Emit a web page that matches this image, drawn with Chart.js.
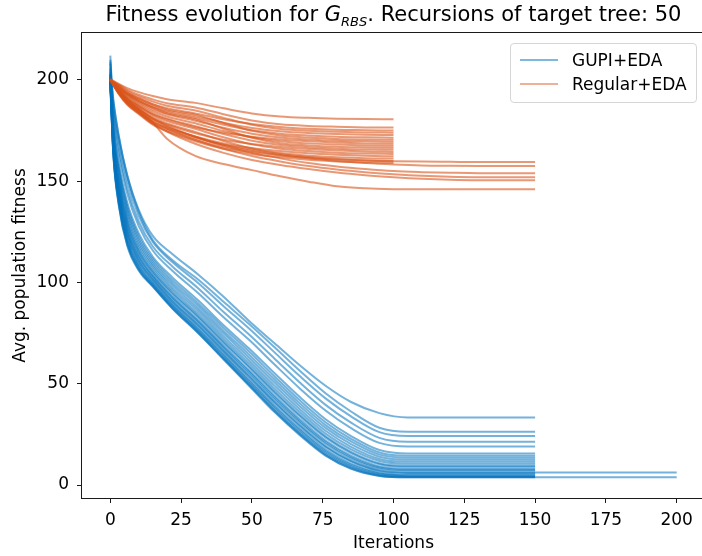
<!DOCTYPE html>
<html>
<head>
<meta charset="utf-8">
<script src="https://cdn.jsdelivr.net/npm/chart.js@4.4.1/dist/chart.umd.min.js"></script>
<style>
  html, body { margin: 0; padding: 0; background: #fff; overflow: hidden; }
  #wrap { position: relative; width: 702px; height: 556px; overflow: hidden; font-family: "DejaVu Sans", sans-serif; }
  #c { position: absolute; left: 0; top: 0; }
  #title { position: absolute; left: 82px; width: 623px; top: 2px; text-align: center; font-size: 21px; color: #000; white-space: nowrap; }
  #title i { font-style: italic; }
  #title sub { font-size: 13px; vertical-align: -5px; line-height: 0; }
  #legend { position: absolute; left: 510px; top: 43px; width: 187px; height: 60px; box-sizing: border-box;
            border: 1px solid #d6d6d6; border-radius: 4px; background: rgba(255,255,255,0.8); font-size: 17px; color: #000; }
  .entry { position: absolute; left: 0; height: 22px; line-height: 22px; white-space: nowrap; }
  .swatch { position: absolute; left: 9px; top: 10px; width: 38px; height: 2px; }
  .label { position: absolute; left: 61px; top: 0; }
</style>
</head>
<body>
<div id="wrap">
  <canvas id="c" width="708" height="556"></canvas>
  <div id="title">Fitness evolution for <i>G<sub>RBS</sub></i>. Recursions of target tree: 50</div>
  <div id="legend">
    <div class="entry" style="top:5px"><span class="swatch" style="background:rgba(0,114,189,0.5)"></span><span class="label">GUPI+EDA</span></div>
    <div class="entry" style="top:29px"><span class="swatch" style="background:rgba(217,83,25,0.45)"></span><span class="label">Regular+EDA</span></div>
  </div>
</div>
<script>
// Iterations at which each GUPI+EDA run is sampled
const gupiIters = [0, 1, 3, 6, 10, 15, 22, 31, 40, 49, 58, 67, 76, 85, 95, 105];

// Average population fitness of each GUPI+EDA run
const gupiRun01 = [208, 191, 172, 153, 136, 123, 114, 104, 93, 81, 70, 59, 49, 41, 35.5, 33.4];
const gupiRun02 = [203, 190.3, 172.3, 152.5, 135, 121, 111, 101.5, 90.5, 79.5, 68, 56.3, 45.3, 36.3, 28.3, 26.3];
const gupiRun03 = [212, 188, 169.7, 150, 133, 120, 110, 99.8, 88.3, 77.3, 65.5, 53.7, 42.8, 33.9, 26.1, 24.2];
const gupiRun04 = [200, 185.1, 166.2, 146.5, 130.2, 117.8, 107.8, 97.2, 85.4, 74.3, 62.4, 50.5, 39.6, 30.8, 23.3, 21.4];
const gupiRun05 = [205, 182.5, 163.3, 143.8, 128, 115.8, 105.7, 94.8, 82.8, 71.7, 59.5, 47.6, 36.8, 28.1, 20.8, 19];
const gupiRun06 = [198, 179, 158.7, 139.4, 124.4, 112.7, 102.4, 91.2, 78.9, 67.4, 55.2, 43.3, 32.5, 24.2, 17.3, 15.6];
const gupiRun07 = [201, 177.7, 157, 137.7, 122.9, 111.4, 101.1, 89.8, 77.5, 65.9, 53.6, 41.7, 31, 22.8, 16.1, 14.5];
const gupiRun08 = [210, 176.5, 155.4, 136, 121.4, 110.2, 99.8, 88.5, 76.1, 64.4, 52.1, 40.2, 29.6, 21.5, 15, 13.5];
const gupiRun09 = [199, 175.4, 153.8, 134.4, 120, 109, 98.6, 87.2, 74.8, 63, 50.6, 38.8, 28.2, 20.2, 14, 12.5];
const gupiRun10 = [203, 174.3, 152.2, 132.7, 118.5, 107.8, 97.3, 85.9, 73.4, 61.5, 49.1, 37.3, 26.8, 18.9, 12.9, 11.5];
const gupiRun11 = [197, 173.1, 150.6, 131.1, 117.1, 106.6, 96.1, 84.6, 72.1, 60.1, 47.6, 35.9, 25.4, 17.6, 11.9, 10.5];
const gupiRun12 = [206, 172.1, 149.3, 129.7, 115.8, 105.5, 95, 83.4, 70.9, 58.8, 46.3, 34.6, 24.1, 16.4, 10.8, 9.5];
const gupiRun13 = [200, 171.4, 148.4, 128.8, 115.1, 104.9, 94.3, 82.8, 70.2, 58.1, 45.5, 33.8, 23.4, 15.8, 10.3, 9];
const gupiRun14 = [202, 170.3, 146.9, 127.3, 113.7, 103.7, 93.1, 81.5, 68.9, 56.7, 44.1, 32.4, 22, 14.5, 9.2, 8];
const gupiRun15 = [198, 169.7, 145.9, 126.3, 112.9, 103.1, 92.4, 80.8, 68.1, 55.9, 43.2, 31.5, 21.2, 13.8, 8.7, 7.5];
const gupiRun16 = [204, 169.1, 145, 125.3, 112, 102.4, 91.7, 80.1, 67.4, 55, 42.3, 30.7, 20.4, 13.1, 8.1, 7];
const gupiRun17 = [200, 168.2, 143.7, 124, 110.9, 101.5, 90.7, 79, 66.3, 53.9, 41.1, 29.5, 19.2, 12, 7.3, 6.2];
const gupiRun18 = [209, 168, 143.2, 123.4, 110.4, 101.2, 90.4, 78.7, 65.9, 53.4, 40.7, 29, 18.8, 11.7, 7, 6];
const gupiRun19 = [196, 167, 141.8, 122, 109.2, 100.2, 89.4, 77.6, 64.8, 52.2, 39.4, 27.8, 17.6, 10.6, 6.2, 5.2];
const gupiRun20 = [201, 166.4, 140.9, 121, 108.4, 99.6, 88.8, 76.9, 64.1, 51.4, 38.6, 27, 16.8, 9.9, 5.7, 4.8];
const gupiRun21 = [203, 165.9, 140, 120.1, 107.7, 99.1, 88.2, 76.3, 63.4, 50.7, 37.8, 26.2, 16.1, 9.3, 5.3, 4.4];
const gupiRun22 = [199, 165.4, 139.1, 119.2, 106.9, 98.5, 87.6, 75.7, 62.7, 49.9, 37, 25.4, 15.4, 8.7, 4.8, 4];
const gupiRun23 = [200, 165.1, 138.5, 118.5, 106.4, 98.2, 87.2, 75.2, 62.3, 49.4, 36.4, 24.9, 14.8, 8.2, 4.6, 3.8];
const gupiRun24 = [202, 165, 138, 118, 106, 98, 87, 75, 62, 49, 36, 24.5, 14.5, 8, 4.5, 3.8];

// Last iteration of each GUPI+EDA run (fitness stays at its final value)
const gupiLastIter = [150, 150, 150, 150, 150, 150, 150, 150, 150, 150, 150, 150,
                      150, 150, 150, 150, 200, 150, 150, 150, 150, 150, 200, 150];

// Iterations at which each Regular+EDA run is sampled
const regIters = [0, 3, 6, 10, 15, 20, 30, 40, 50, 60, 70, 80, 90, 100];
const regItersLong = [0, 3, 6, 10, 15, 20, 30, 40, 50, 60, 70, 80, 90, 100, 110, 120, 130];

// Average population fitness of each Regular+EDA run
const regRun01 = [200.5, 198.1, 196, 194, 192.1, 190.5, 188.7, 186, 183.5, 182, 181.3, 180.9, 180.7, 180.6];
const regRun02 = [200, 197.7, 195.1, 192.7, 190.4, 188.5, 186.4, 183.1, 180, 178.1, 177.3, 176.9, 176.6, 176.5];
const regRun03 = [200, 196.5, 193.6, 191, 188.1, 186.1, 183.5, 180.6, 178.3, 176.8, 175.9, 175.4, 175.2, 175];
const regRun04 = [200, 197.4, 194.5, 191.9, 189.3, 187.3, 184.9, 181.3, 177.9, 175.8, 174.9, 174.4, 174.1, 174];
const regRun05 = [200, 196.2, 193.1, 190.2, 187.1, 184.9, 182.1, 178.9, 176.3, 174.7, 173.8, 173.3, 173, 172.8];
const regRun06 = [200, 196, 192.7, 189.7, 186.5, 184.2, 181.2, 177.9, 175.2, 173.5, 172.6, 172, 171.7, 171.5];
const regRun07 = [200, 197, 193.8, 190.9, 187.9, 185.5, 182.9, 178.8, 174.9, 172.6, 171.6, 170.9, 170.6, 170.5];
const regRun08 = [200, 195.7, 192.2, 189, 185.5, 183.1, 179.9, 176.4, 173.5, 171.6, 170.6, 170, 169.7, 169.5];
const regRun09 = [200, 194.6, 190.6, 187.1, 183, 180.5, 176.7, 173.9, 172, 170.6, 169.7, 169.1, 168.7, 168.5];
const regRun10 = [200, 195.5, 191.7, 188.3, 184.6, 182, 178.6, 174.8, 171.7, 169.8, 168.7, 168.1, 167.7, 167.5];
const regRun11 = [200, 196.7, 193, 189.6, 186.3, 183.6, 180.6, 175.9, 171.5, 168.8, 167.7, 167, 166.7, 166.5];
const regRun12 = [200, 195.2, 191.2, 187.6, 183.6, 180.9, 177.2, 173.3, 170, 167.9, 166.8, 166.1, 165.7, 165.5];
const regRun13 = [200, 194, 189.4, 185.4, 180.8, 178, 173.7, 170.5, 168.4, 166.9, 165.9, 165.2, 164.7, 164.5];
const regRun14 = [200, 194.9, 190.7, 186.9, 182.7, 179.7, 175.9, 171.7, 168.2, 166.1, 164.9, 164.1, 163.7, 163.5];
const regRun15 = [200, 193.6, 188.7, 184.5, 179.6, 176.6, 172.1, 168.7, 166.4, 164.9, 163.8, 163.1, 162.6, 162.3];
const regRun16 = [200, 194.6, 190.1, 186, 181.6, 178.5, 174.4, 169.9, 166.2, 163.9, 162.6, 161.9, 161.4, 161.2];
const regRun17 = [200, 193.2, 188, 183.6, 178.4, 175.2, 170.4, 166.8, 164.4, 162.7, 161.6, 160.8, 160.3, 160];
const regRun18 = [200, 193, 187.7, 183.2, 177.9, 174.6, 169.7, 166, 163.5, 161.8, 160.6, 159.8, 159.3, 159];
const regRun19 = [200, 193.5, 188.5, 184, 179, 176, 171.5, 168, 165.5, 163.5, 162, 161, 160.3, 159.9, 159.7, 159.6, 159.5];
const regRun20 = [200, 194, 189.5, 185.5, 180.5, 177, 172, 168, 165, 163, 161.3, 160, 159, 158.3, 157.8, 157.6, 157.5];
const regRun21 = [200, 194.5, 190, 186, 181, 177.5, 172, 167.5, 164, 161.3, 159, 157.3, 156, 155, 154.5, 154.2, 154];
const regRun22 = [200, 194, 189, 184.5, 179.5, 176, 170.5, 166, 162.5, 159.8, 157.5, 155.8, 154.5, 153.5, 152.7, 152.2, 152];
const regRun23 = [200, 193.5, 188.5, 184, 178.5, 174.5, 168.5, 164, 160.5, 158, 156, 154.3, 153, 152, 151.2, 150.7, 150.5];
const regRun24 = [200.5, 195, 190.5, 185, 179, 171, 162.5, 158.5, 155.5, 152.5, 149.8, 147.5, 146.5, 146.1, 146, 146, 146];

// Last iteration of each Regular+EDA run
const regLastIter = [100, 100, 100, 100, 100, 100, 100, 100, 100, 100, 100, 100,
                     100, 100, 100, 100, 100, 100, 150, 150, 150, 150, 150, 150];

// Axis ticks
const xTicks = [0, 25, 50, 75, 100, 125, 150, 175, 200];
const yTicks = [0, 50, 100, 150, 200];

const gupiRuns = [gupiRun01, gupiRun02, gupiRun03, gupiRun04, gupiRun05, gupiRun06, gupiRun07, gupiRun08,
  gupiRun09, gupiRun10, gupiRun11, gupiRun12, gupiRun13, gupiRun14, gupiRun15, gupiRun16,
  gupiRun17, gupiRun18, gupiRun19, gupiRun20, gupiRun21, gupiRun22, gupiRun23, gupiRun24];
const regRuns = [regRun01, regRun02, regRun03, regRun04, regRun05, regRun06, regRun07, regRun08,
  regRun09, regRun10, regRun11, regRun12, regRun13, regRun14, regRun15, regRun16,
  regRun17, regRun18, regRun19, regRun20, regRun21, regRun22, regRun23, regRun24];

const GUPI_COLOR = 'rgba(0, 114, 189, 0.55)';
const REG_COLOR = 'rgba(217, 83, 25, 0.6)';

// Points of one run; after its last sample the run holds its final value until its last iteration
function toPoints(iters, run, lastIter) {
  const pts = iters.map((x, i) => ({ x: x, y: run[i] }));
  const lastX = iters[iters.length - 1];
  if (lastIter > lastX) pts.push({ x: lastIter, y: run[run.length - 1] });
  return pts;
}

const datasets = [];
regRuns.forEach((run, i) => {
  const iters = run.length === regItersLong.length ? regItersLong : regIters;
  datasets.push({ label: 'Regular+EDA', data: toPoints(iters, run, regLastIter[i]),
                  borderColor: REG_COLOR, order: 1 });
});
gupiRuns.forEach((run, i) => {
  datasets.push({ label: 'GUPI+EDA', data: toPoints(gupiIters, run, gupiLastIter[i]),
                  borderColor: GUPI_COLOR, order: 2 });
});
datasets.forEach(d => Object.assign(d, {
  borderWidth: 2, pointRadius: 0, fill: false,
  cubicInterpolationMode: 'monotone',
  borderJoinStyle: 'round', borderCapStyle: 'butt'
}));

const FONT = { family: 'DejaVu Sans', size: 17 };

// Box around the plot area, drawn over the lines
const frame = {
  id: 'frame',
  afterDatasetsDraw(chart) {
    const { ctx, chartArea: a } = chart;
    ctx.save();
    ctx.strokeStyle = '#1a1a1a';
    ctx.lineWidth = 1;
    ctx.strokeRect(Math.round(a.left) - 0.5, Math.round(a.top) - 0.5,
                   Math.round(a.right - a.left) + 1, Math.round(a.bottom - a.top) + 1);
    ctx.restore();
  }
};

new Chart(document.getElementById('c'), {
  type: 'line',
  data: { datasets: datasets },
  plugins: [frame],
  options: {
    responsive: false,
    animation: false,
    events: [],
    layout: { padding: { top: 33, right: 3, left: 0, bottom: 0 } },
    plugins: { legend: { display: false }, tooltip: { enabled: false }, title: { display: false } },
    scales: {
      x: {
        type: 'linear', min: -10, max: 210,
        afterBuildTicks: s => { s.ticks = xTicks.map(v => ({ value: v })); },
        afterFit: s => { s.height = 58; },
        ticks: { font: FONT, color: '#000', padding: 7, maxRotation: 0, autoSkip: false },
        grid: { drawOnChartArea: false, drawTicks: true, tickLength: 5, color: '#1a1a1a', lineWidth: 1 },
        border: { display: false },
        title: { display: true, text: 'Iterations', font: FONT, color: '#000', padding: { top: 0, bottom: 2 } }
      },
      y: {
        type: 'linear', min: -6.4, max: 223.2,
        afterBuildTicks: s => { s.ticks = yTicks.map(v => ({ value: v })); },
        afterFit: s => { s.width = 82; },
        ticks: { font: FONT, color: '#000', padding: 8 },
        grid: { drawOnChartArea: false, drawTicks: true, tickLength: 5, color: '#1a1a1a', lineWidth: 1 },
        border: { display: false },
        title: { display: true, text: 'Avg. population fitness', font: FONT, color: '#000', padding: { top: 10, bottom: 0 } }
      }
    }
  }
});
</script>
</body>
</html>
